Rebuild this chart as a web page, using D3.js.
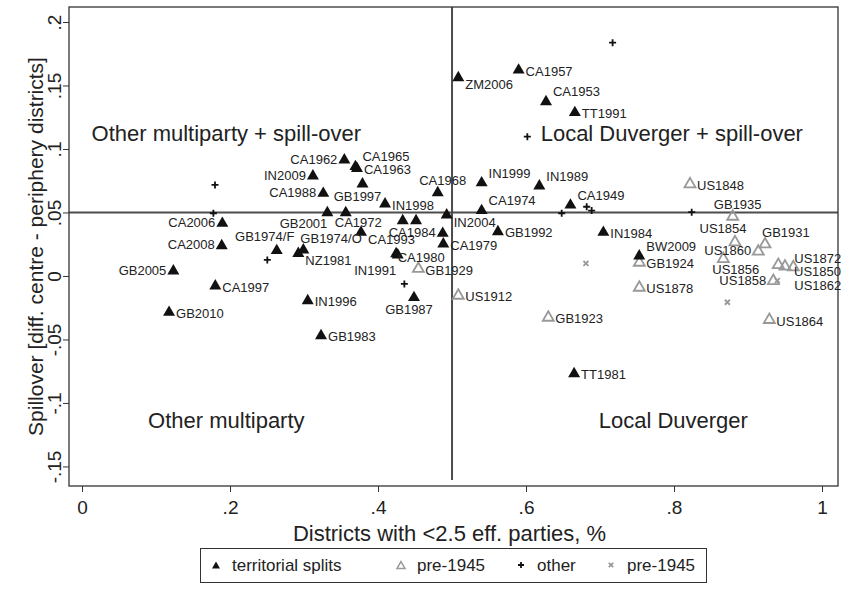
<!DOCTYPE html>
<html>
<head>
<meta charset="utf-8">
<script src="https://cdn.jsdelivr.net/npm/d3@7"></script>
<style>
  body { margin: 0; background: #fff; }
  svg { display: block; font-family: "Liberation Sans", Arial, sans-serif; }
</style>
</head>
<body>
<svg id="chart" width="845" height="591"></svg>
<script>
// Data: territorial splits (black triangles)
const splits = [
  { label: "CA1957", x: 0.590, y: 0.1635 },
  { label: "ZM2006", x: 0.5085, y: 0.1575 },
  { label: "CA1953", x: 0.627, y: 0.1386 },
  { label: "TT1991", x: 0.666, y: 0.130 },
  { label: "IN1999", x: 0.540, y: 0.0747 },
  { label: "IN1989", x: 0.618, y: 0.0722 },
  { label: "CA1949", x: 0.660, y: 0.0572 },
  { label: "CA1974", x: 0.540, y: 0.0528 },
  { label: "GB1992", x: 0.562, y: 0.0362 },
  { label: "IN1984", x: 0.7045, y: 0.0357 },
  { label: "BW2009", x: 0.753, y: 0.0171 },
  { label: "TT1981", x: 0.665, y: -0.0756 },
  { label: "CA1962", x: 0.3545, y: 0.0927 },
  { label: "CA1965", x: 0.3695, y: 0.0875 },
  { label: "CA1963", x: 0.3715, y: 0.0860 },
  { label: "IN2009", x: 0.312, y: 0.0801 },
  { label: "GB1997", x: 0.379, y: 0.0738 },
  { label: "CA1988", x: 0.326, y: 0.0664 },
  { label: "IN1998", x: 0.4095, y: 0.058 },
  { label: "CA1968", x: 0.4807, y: 0.0669 },
  { label: "IN2004", x: 0.4928, y: 0.0494 },
  { label: "GB2001", x: 0.3315, y: 0.0512 },
  { label: "CA1972", x: 0.3564, y: 0.0512 },
  { label: "CA1993", x: 0.377, y: 0.0357 },
  { label: "", x: 0.4334, y: 0.0449 },
  { label: "", x: 0.4514, y: 0.0449 },
  { label: "CA1984", x: 0.4874, y: 0.0349 },
  { label: "CA1979", x: 0.4882, y: 0.0265 },
  { label: "CA1980", x: 0.4266, y: 0.0179 },
  { label: "IN1991", x: 0.4245, y: 0.0189 },
  { label: "GB1974/O", x: 0.2991, y: 0.0218 },
  { label: "NZ1981", x: 0.2923, y: 0.0191 },
  { label: "GB1974/F", x: 0.2631, y: 0.0213 },
  { label: "CA2006", x: 0.1896, y: 0.0428 },
  { label: "CA2008", x: 0.1888, y: 0.0252 },
  { label: "GB2005", x: 0.1234, y: 0.0053 },
  { label: "CA1997", x: 0.1801, y: -0.0065 },
  { label: "GB2010", x: 0.1176, y: -0.0273 },
  { label: "IN1996", x: 0.305, y: -0.0181 },
  { label: "GB1983", x: 0.323, y: -0.0457 },
  { label: "GB1987", x: 0.4486, y: -0.0157 }
];

// pre-1945 cases (grey hollow triangles)
const pre1945 = [
  { label: "GB1929", x: 0.4545, y: 0.0069 },
  { label: "US1912", x: 0.5085, y: -0.0142 },
  { label: "GB1923", x: 0.6301, y: -0.0315 },
  { label: "US1848", x: 0.8216, y: 0.0735 },
  { label: "GB1935", x: 0.8793, y: 0.048 },
  { label: "US1854", x: 0.8824, y: 0.0278 },
  { label: "US1860", x: 0.9139, y: 0.0205 },
  { label: "GB1931", x: 0.9230, y: 0.0262 },
  { label: "US1856", x: 0.8666, y: 0.0147 },
  { label: "US1858", x: 0.9342, y: -0.0026 },
  { label: "US1872", x: 0.9612, y: 0.0081 },
  { label: "US1850", x: 0.9500, y: 0.0087 },
  { label: "US1862", x: 0.9409, y: 0.0100 },
  { label: "US1864", x: 0.9288, y: -0.0333 },
  { label: "GB1924", x: 0.7531, y: 0.0118 },
  { label: "US1878", x: 0.7531, y: -0.0079 }
];

// other (unlabelled)
const others = [
  { x: 0.717, y: 0.1837 },
  { x: 0.6018, y: 0.1097 },
  { x: 0.1797, y: 0.0717 },
  { x: 0.1775, y: 0.0494 },
  { x: 0.2504, y: 0.0126 },
  { x: 0.4356, y: -0.0063 },
  { x: 0.6482, y: 0.0494 },
  { x: 0.682, y: 0.0545 },
  { x: 0.6887, y: 0.0515 },
  { x: 0.8239, y: 0.0502 }
];

// other pre-1945 (unlabelled)
const othersPre1945 = [
  { x: 0.681, y: 0.010 },
  { x: 0.8721, y: -0.0207 },
  { x: 0.9396, y: -0.0037 }
];

const xTicks = [0, 0.2, 0.4, 0.6, 0.8, 1];
const yTicks = [-0.15, -0.1, -0.05, 0, 0.05, 0.1, 0.15, 0.2];

// Quadrant captions
const quadrants = [
  { text: "Other multiparty + spill-over", x: 0.195, y: 0.1125 },
  { text: "Local Duverger + spill-over", x: 0.797, y: 0.1125 },
  { text: "Other multiparty", x: 0.195, y: -0.1135 },
  { text: "Local Duverger", x: 0.799, y: -0.1135 }
];

const legendItems = [
  { text: "territorial splits", kind: "split" },
  { text: "pre-1945", kind: "pre" },
  { text: "other", kind: "other" },
  { text: "pre-1945", kind: "otherPre" }
];

// Marker label positions (clock, like Stata mlabvposition)
const labelClock = {
  CA1957: 3, ZM2006: 4, CA1953: 2, TT1991: 3, IN1999: 2, IN1989: 2, CA1949: 2,
  CA1974: 2, GB1992: 3, IN1984: 3, BW2009: 2, TT1981: 3, CA1962: 9, CA1965: 2,
  CA1963: 3, IN2009: 9, GB1997: 6, CA1988: 9, IN1998: 3, CA1968: 12, IN2004: 4,
  GB2001: 7, CA1972: 5, CA1993: 4, CA1984: 9, CA1979: 3, CA1980: 4, IN1991: 7,
  "GB1974/O": 1, NZ1981: 4, "GB1974/F": 11, CA2006: 9, CA2008: 9, GB2005: 9,
  CA1997: 3, GB2010: 3, IN1996: 3, GB1983: 3, GB1987: 6,
  GB1929: 3, US1912: 3, GB1923: 3, US1848: 3, GB1935: 12, US1854: 11, US1860: 9,
  GB1931: 1, US1856: 5, US1858: 9, US1872: 1, US1850: 4, US1862: 4, US1864: 3,
  GB1924: 3, US1878: 3
};
const labelNudge = {
  US1862: [9, 13], IN1991: [0, 6], CA1980: [-7, -5],
  US1872: [4, 3], US1850: [2, -2]
};

// Offsets per clock position [dx, dy, anchor]
const clockOffsets = {
  1: [-3, -10, "start"],
  2: [7, -8, "start"],
  3: [7, 3, "start"],
  4: [7, 9, "start"],
  5: [-11, 12, "start"],
  6: [-5, 14, "middle"],
  7: [0, 13, "end"],
  9: [-7, 1, "end"],
  11: [-12, -12, "middle"],
  12: [5, -11, "middle"]
};

// SVG setup
const svg = d3.select("#chart");
const plot = { left: 69, right: 838, top: 7, bottom: 486 };

const x = d3.scaleLinear().domain([-0.0176, 1.0216]).range([plot.left, plot.right]);
const y = d3.scaleLinear().domain([-0.1654, 0.2118]).range([plot.bottom, plot.top]);

const fmt = d => d === 0 ? "0" : String(d).replace("0.", ".");

svg.append("rect").attr("width", 845).attr("height", 591).attr("fill", "#fff");

// Reference lines
svg.append("line")
  .attr("x1", plot.left).attr("x2", plot.right)
  .attr("y1", y(0.05)).attr("y2", y(0.05))
  .attr("stroke", "#4d4d4d").attr("stroke-width", 2);
svg.append("line")
  .attr("x1", x(0.5)).attr("x2", x(0.5))
  .attr("y1", plot.top).attr("y2", plot.bottom - 6)
  .attr("stroke", "#4d4d4d").attr("stroke-width", 2);

// Axes
const xAxis = svg.append("g")
  .attr("transform", `translate(0,${plot.bottom})`)
  .call(d3.axisBottom(x).tickValues(xTicks).tickFormat(fmt).tickSize(6).tickPadding(9));
xAxis.select(".domain").remove();
xAxis.selectAll("line").attr("stroke", "#333");
xAxis.selectAll("text").attr("font-size", 19).attr("fill", "#222")
  .attr("font-family", "Liberation Sans, Arial, sans-serif");

const yAxis = svg.append("g")
  .attr("transform", `translate(${plot.left},0)`)
  .call(d3.axisLeft(y).tickValues(yTicks).tickFormat(fmt).tickSize(6));
yAxis.select(".domain").remove();
yAxis.selectAll("line").attr("stroke", "#333");
yAxis.selectAll("text")
  .attr("font-size", 19).attr("fill", "#222")
  .attr("font-family", "Liberation Sans, Arial, sans-serif")
  .attr("text-anchor", "middle")
  .attr("transform", "rotate(-90)")
  .attr("x", 0).attr("y", -8).attr("dy", null);

// Plot frame
svg.append("rect")
  .attr("x", plot.left).attr("y", plot.top)
  .attr("width", plot.right - plot.left).attr("height", plot.bottom - plot.top)
  .attr("fill", "none").attr("stroke", "#333").attr("stroke-width", 1.3);

// Axis titles
svg.append("text")
  .attr("x", (plot.left + plot.right) / 2 - 4).attr("y", 541)
  .attr("text-anchor", "middle").attr("font-size", 22).attr("fill", "#222")
  .text("Districts with <2.5 eff. parties, %");
svg.append("text")
  .attr("transform", `translate(43,${(plot.top + plot.bottom) / 2}) rotate(-90)`)
  .attr("text-anchor", "middle").attr("font-size", 21).attr("fill", "#222")
  .text("Spillover [diff. centre - periphery districts]");

// Quadrant captions
svg.append("g").selectAll("text").data(quadrants).join("text")
  .attr("x", d => x(d.x)).attr("y", d => y(d.y))
  .attr("text-anchor", "middle").attr("dominant-baseline", "central")
  .attr("font-size", 22).attr("fill", "#222")
  .text(d => d.text);

// Marker shapes
const tri = s => `M0,${-s * 0.433}L${s / 2},${s * 0.433}L${-s / 2},${s * 0.433}Z`;
const plus = s => `M${-s},0H${s}M0,${-s}V${s}`;
const cross = s => `M${-s},${-s}L${s},${s}M${-s},${s}L${s},${-s}`;

function drawMarker(g, kind, big) {
  if (kind === "split") {
    g.append("path").attr("d", tri(big ? 12 : 8)).attr("fill", "#111");
  } else if (kind === "pre") {
    g.append("path").attr("d", tri(big ? 11 : 8)).attr("fill", "none")
      .attr("stroke", "#999").attr("stroke-width", big ? 1.8 : 1.5);
  } else if (kind === "other") {
    g.append("path").attr("d", plus(big ? 3.5 : 3)).attr("stroke", "#111").attr("stroke-width", 1.8);
  } else {
    g.append("path").attr("d", cross(big ? 2.5 : 2.2)).attr("stroke", "#999").attr("stroke-width", 1.8);
  }
}

function drawSeries(data, kind) {
  const g = svg.append("g");
  data.forEach(d => {
    const m = g.append("g").attr("transform", `translate(${x(d.x)},${y(d.y)})`);
    drawMarker(m, kind, true);
  });
}

drawSeries(others, "other");
drawSeries(othersPre1945, "otherPre");
drawSeries(pre1945, "pre");
drawSeries(splits, "split");

// Marker labels
const labelled = splits.concat(pre1945).filter(d => d.label);
svg.append("g").selectAll("text").data(labelled).join("text")
  .each(function(d) {
    const off = clockOffsets[labelClock[d.label] || 3];
    const n = labelNudge[d.label] || [0, 0];
    d3.select(this)
      .attr("x", x(d.x) + off[0] + n[0])
      .attr("y", y(d.y) + off[1] + n[1])
      .attr("text-anchor", off[2]);
  })
  .attr("dominant-baseline", "central")
  .attr("font-size", 13).attr("fill", "#222")
  .text(d => d.label);

// Legend
const legend = svg.append("g");
legend.append("rect")
  .attr("x", 200.5).attr("y", 548.5).attr("width", 506).attr("height", 34)
  .attr("fill", "#fff").attr("stroke", "#333").attr("stroke-width", 1);
const legendX = [216, 401, 521, 611];
legendItems.forEach((d, i) => {
  const m = legend.append("g").attr("transform", `translate(${legendX[i]},565)`);
  drawMarker(m, d.kind, false);
  legend.append("text")
    .attr("x", legendX[i] + 16).attr("y", 565)
    .attr("dominant-baseline", "central")
    .attr("font-size", 17).attr("fill", "#222")
    .text(d.text);
});
</script>
</body>
</html>
